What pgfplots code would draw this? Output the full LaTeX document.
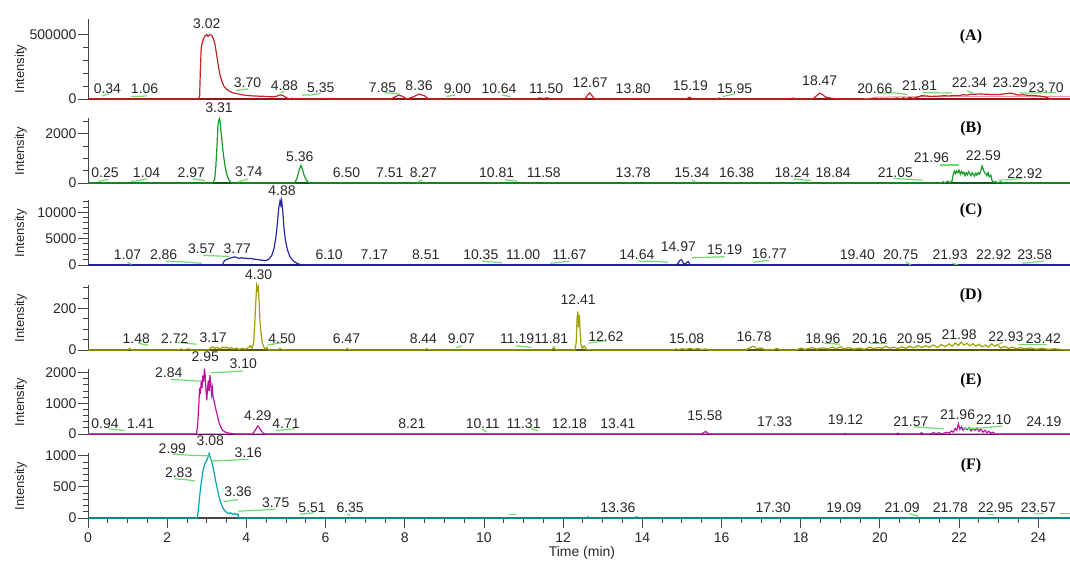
\documentclass[border=0pt]{standalone}
\usepackage{pgfplots}
\pgfplotsset{compat=1.18}
\usepackage{fontspec}
\setmainfont{Liberation Sans}
\newfontfamily\serifb{Liberation Serif}
\definecolor{cA}{RGB}{200,35,35}
\definecolor{cB}{RGB}{20,155,40}
\definecolor{cC}{RGB}{40,40,165}
\definecolor{cD}{RGB}{160,160,10}
\definecolor{cE}{RGB}{185,20,160}
\definecolor{cF}{RGB}{0,165,175}
\definecolor{grnc}{RGB}{110,220,110}
\definecolor{axc}{RGB}{70,70,70}
\definecolor{txt}{RGB}{40,40,40}
\tikzset{
  lbl/.style={anchor=south, inner sep=0pt, font=\fontsize{10.5}{12}\selectfont, text=txt},
  plab/.style={anchor=center, inner sep=0pt, font=\serifb\bfseries\fontsize{12}{14}\selectfont, text=black}
}
\newcommand\pk[3]{\node[lbl,yshift=#2*0.75pt] at (axis cs:#1,0) {#3};}
\newcommand\gs[1]{\addplot[grn] coordinates {#1};}
\pgfplotsset{
  grn/.style={draw=grnc, line width=0.9pt, no markers, forget plot},
  trace/.style={line width=0.9pt, no markers},
  panel/.style={
    scale only axis, width=736.5pt, height=48.75pt,
    xmin=0, xmax=24.8, ymin=0,
    axis x line*=bottom, axis y line*=left,
    clip=false,
    x axis line style={draw=black!50, line width=1.7pt},
    y axis line style={draw=axc, line width=0.7pt},
    every tick/.style={draw=axc, line width=0.7pt},
    major tick length=7.5pt, minor tick length=3.75pt,
    tick align=outside,
    xtick=\empty,
    yticklabel style={font=\fontsize{10.5}{12}\selectfont, text=txt, inner sep=1pt},
    xticklabel style={font=\fontsize{10.5}{12}\selectfont, text=txt},
    scaled y ticks=false,
    /pgf/number format/fixed,
    /pgf/number format/1000 sep={},
    /pgf/number format/assume math mode=true,
    ylabel={Intensity},
    ylabel style={at={(axis description cs:-0.0685,0.49)}, anchor=center, font=\fontsize{9.75}{11}\selectfont, text=txt},
  }
}
\begin{document}
\begin{tikzpicture}
\path[use as bounding box] (-66pt,-345.75pt) rectangle (736.5pt,74.25pt);
% ---------------- (A)
\begin{axis}[panel, at={(0pt,0pt)}, anchor=south west, height=60pt, ymax=620000,
  ytick={0,500000}, minor ytick={100000,200000,300000,400000},
  ylabel style={at={(axis description cs:-0.0685,0.375)}}]
\addplot[black!45, line width=1.7pt, no markers, forget plot] coordinates {(0,0)(24.8,0)};
\addplot[cA!70!black, line width=0.9pt, no markers, forget plot] coordinates {(0,0)(24.8,0)};
\addplot[cA!45, line width=0.7pt, no markers, forget plot] coordinates {(19.6,0)(19.9,14000)(20.5,17000)(21.5,19000)(22.5,20000)(23.5,21000)(24.8,21000)};
\addplot[cA, trace] coordinates {(0,0)(2.80,0)(2.82,30000)(2.84,250000)(2.86,400000)(2.89,440000)(2.92,470000)(2.96,490000)(3.00,500000)(3.03,485000)(3.06,495000)(3.09,500000)(3.13,490000)(3.17,465000)(3.21,420000)(3.25,340000)(3.29,260000)(3.33,190000)(3.38,140000)(3.43,100000)(3.50,75000)(3.58,58000)(3.66,48000)(3.75,42000)(3.85,36000)(3.95,30000)(4.1,25000)(4.3,22000)(4.5,20000)(4.65,17000)(4.75,20000)(4.85,32000)(4.92,28000)(5.0,12000)(5.05,4000)(5.1,0)(5.15,6000)(5.2,0)(5.35,0)(5.4,5000)(5.45,0)(6.0,0)(6.05,4000)(6.1,0)(7.65,0)(7.75,15000)(7.85,30000)(7.95,20000)(8.05,0)(8.2,15000)(8.36,38000)(8.5,25000)(8.6,0)(11.3,0)(11.4,8000)(11.5,5000)(11.6,9000)(11.7,0)(12.55,0)(12.62,30000)(12.67,48000)(12.73,25000)(12.8,0)(13.8,0)(13.85,4000)(13.9,0)(15.1,0)(15.19,14000)(15.28,0)(15.9,0)(15.95,8000)(16.0,0)(17.7,0)(17.8,7000)(17.9,0)(18.3,0)(18.4,25000)(18.47,45000)(18.55,35000)(18.62,15000)(18.7,10000)(18.8,5000)(18.9,0)(19.85,0)(19.9,8000)(19.95,0)(20.1,0)(20.2,6000)(20.25,0)(20.45,8000)(20.5,0)(20.6,10000)(20.65,3000)(20.75,12000)(20.85,6000)(20.95,14000)(21.05,26000)(21.15,24000)(21.3,20000)(21.45,22000)(21.6,25000)(21.75,24000)(21.9,27000)(22.0,26000)(22.1,33000)(22.2,30000)(22.3,38000)(22.4,36000)(22.5,40000)(22.6,38000)(22.75,36000)(22.9,34000)(23.05,36000)(23.2,42000)(23.3,46000)(23.4,38000)(23.5,30000)(23.6,33000)(23.75,28000)(23.9,26000)(24.05,22000)(24.2,15000)(24.3,0)(24.8,0)};
\gs{(0.35,23000)(0.52,39000)}
\gs{(1.09,19000)(1.30,19000)(1.48,25000)}
\gs{(3.74,67000)(4.05,78000)}
\gs{(4.87,47000)(4.96,59000)}
\gs{(5.40,31000)(5.65,31000)(5.88,46000)}
\gs{(7.49,50000)(7.88,39000)}
\gs{(9.05,19000)(9.27,31000)}
\gs{(10.45,31000)(10.67,19000)}
\gs{(16.03,19000)(16.34,39000)}
\gs{(19.95,46000)(20.4,46000)(20.7,35000)}
\gs{(21.08,50000)(21.82,46000)}
\gs{(22.2,62000)(22.34,50000)}
\gs{(23.53,46000)(23.9,46000)(24.44,50000)}
\pk{0.49}{5.2}{0.34}\pk{1.43}{5.2}{1.06}\pk{3.00}{69.7}{3.02}\pk{4.03}{11}{3.70}
\pk{4.96}{7.6}{4.88}\pk{5.88}{5.9}{5.35}\pk{7.44}{6.5}{7.85}\pk{8.36}{7.6}{8.36}
\pk{9.33}{5.2}{9.00}\pk{10.38}{5.2}{10.64}\pk{11.57}{5.2}{11.50}\pk{12.68}{11}{12.67}
\pk{13.77}{5.2}{13.80}\pk{15.21}{7.6}{15.19}\pk{16.33}{5.2}{15.95}\pk{18.48}{12.8}{18.47}
\pk{19.87}{5.2}{20.66}\pk{21.0}{7.6}{21.81}\pk{22.26}{11}{22.34}\pk{23.29}{11}{23.29}
\pk{24.2}{6.5}{23.70}
\node[plab, yshift=62*0.75pt] at (axis cs:22.3,0) {(A)};
\end{axis}
% ---------------- (B)
\begin{axis}[panel, at={(0pt,-63pt)}, anchor=south west, ymax=2650,
  ytick={0,2000}, minor ytick={500,1000,1500,2500}]
\addplot[black!45, line width=1.7pt, no markers, forget plot] coordinates {(0,0)(24.8,0)};
\addplot[cB!60!black, line width=0.9pt, no markers, forget plot] coordinates {(0,0)(24.8,0)};
\addplot[cB, trace] coordinates {(0,0)(3.15,0)(3.2,150)(3.23,700)(3.26,1600)(3.28,2300)(3.30,2550)(3.32,2620)(3.34,2450)(3.36,2100)(3.39,1600)(3.42,1150)(3.46,700)(3.50,380)(3.55,150)(3.60,40)(3.66,0)(5.22,0)(5.28,200)(5.32,450)(5.36,650)(5.38,720)(5.41,600)(5.45,350)(5.50,150)(5.56,30)(5.62,0)(21.55,0)(21.6,50)(21.63,0)(21.72,70)(21.76,0)(21.82,80)(21.85,350)(21.88,480)(21.91,380)(21.94,500)(21.97,420)(22.0,520)(22.03,360)(22.06,470)(22.09,380)(22.12,440)(22.15,300)(22.18,420)(22.21,340)(22.24,460)(22.27,380)(22.3,300)(22.33,420)(22.36,350)(22.39,280)(22.42,400)(22.45,320)(22.48,420)(22.52,360)(22.55,520)(22.58,700)(22.61,560)(22.64,420)(22.67,380)(22.7,300)(22.73,420)(22.76,250)(22.8,320)(22.83,100)(22.87,30)(22.92,60)(22.96,0)(23.05,50)(23.1,0)(24.8,0)};
\gs{(0.26,70)(0.52,140)}
\gs{(1.09,70)(1.30,100)(1.48,165)}
\gs{(2.65,165)(2.96,100)}
\gs{(3.79,40)(4.05,165)}
\gs{(8.32,30)(8.45,130)}
\gs{(10.53,130)(10.84,70)}
\gs{(15.25,130)(15.34,30)}
\gs{(17.82,165)(18.26,100)}
\gs{(20.35,185)(21.08,115)}
\gs{(21.52,735)(22.0,735)}
\gs{(23.0,115)(23.3,140)(23.6,185)}
\pk{0.43}{5.2}{0.25}\pk{1.48}{5.2}{1.04}\pk{2.61}{5.2}{2.97}\pk{3.31}{69.7}{3.31}
\pk{4.06}{6.2}{3.74}\pk{5.35}{21.4}{5.36}\pk{6.53}{5.2}{6.50}\pk{7.62}{5.2}{7.51}
\pk{8.47}{5.2}{8.27}\pk{10.32}{5.2}{10.81}\pk{11.51}{5.2}{11.58}\pk{13.77}{5.2}{13.78}
\pk{15.25}{5.2}{15.34}\pk{16.38}{5.2}{16.38}\pk{17.78}{5.2}{18.24}\pk{18.82}{5.2}{18.84}
\pk{20.39}{5.2}{21.05}\pk{21.3}{20}{21.96}\pk{22.61}{22.4}{22.59}\pk{23.66}{4.5}{22.92}
\node[plab, yshift=54*0.75pt] at (axis cs:22.3,0) {(B)};
\end{axis}
% ---------------- (C)
\begin{axis}[panel, at={(0pt,-124.5pt)}, anchor=south west, ymax=12350,
  ytick={0,5000,10000}, minor ytick={1000,2000,3000,4000,6000,7000,8000,9000,11000,12000}]
\addplot[black!45, line width=1.7pt, no markers, forget plot] coordinates {(0,0)(24.8,0)};
\addplot[cC!70!black, line width=0.9pt, no markers, forget plot] coordinates {(0,0)(24.8,0)};
\addplot[cC, trace] coordinates {(0,0)(3.40,0)(3.42,500)(3.46,900)(3.52,1100)(3.58,1300)(3.64,1400)(3.70,1550)(3.74,1450)(3.78,1350)(3.83,1250)(3.88,1400)(3.93,1250)(3.98,1300)(4.05,1200)(4.12,1250)(4.2,1100)(4.28,1050)(4.36,950)(4.44,850)(4.52,900)(4.58,1200)(4.64,1800)(4.70,3200)(4.75,5500)(4.79,8500)(4.82,11000)(4.85,12200)(4.87,11400)(4.89,12300)(4.92,10200)(4.95,7000)(4.99,4500)(5.04,2800)(5.1,1600)(5.18,800)(5.28,300)(5.38,50)(5.45,0)(14.85,0)(14.9,300)(14.95,900)(14.99,1000)(15.04,300)(15.08,150)(15.12,500)(15.16,650)(15.2,100)(15.25,0)(24.8,0)};
\gs{(1.0,520)(1.1,100)}
\gs{(1.96,720)(2.4,600)(2.87,320)}
\gs{(2.91,1820)(3.57,1630)}
\gs{(9.95,720)(10.45,430)}
\gs{(11.68,320)(12.16,720)}
\gs{(13.9,720)(14.2,720)(14.65,530)}
\gs{(15.25,1370)(16.08,1580)}
\gs{(16.8,530)(17.2,870)}
\gs{(20.65,530)(20.78,50)}
\gs{(21.83,320)(21.96,50)}
\gs{(23.6,320)(24.14,720)}
\pk{1.0}{5.2}{1.07}\pk{1.91}{5.2}{2.86}\pk{2.87}{11.4}{3.57}\pk{3.77}{11.4}{3.77}
\pk{4.90}{69}{4.88}\pk{6.09}{5.2}{6.10}\pk{7.23}{5.2}{7.17}\pk{8.53}{5.2}{8.51}
\pk{9.92}{5.2}{10.35}\pk{10.99}{5.2}{11.00}\pk{12.16}{5.2}{11.67}\pk{13.86}{5.2}{14.64}
\pk{14.91}{13}{14.97}\pk{16.08}{9.6}{15.19}\pk{17.21}{6}{16.77}\pk{19.43}{5.2}{19.40}
\pk{20.52}{5.2}{20.75}\pk{21.77}{5.2}{21.93}\pk{22.87}{5.2}{22.92}\pk{23.91}{5.2}{23.58}
\node[plab, yshift=54*0.75pt] at (axis cs:22.3,0) {(C)};
\end{axis}
% ---------------- (D)
\begin{axis}[panel, at={(0pt,-188.25pt)}, anchor=south west, ymax=314,
  ytick={0,200}, minor ytick={50,100,150,250,300}]
\addplot[black!45, line width=1.7pt, no markers, forget plot] coordinates {(0,0)(24.8,0)};
\addplot[cD!55!black, line width=0.9pt, no markers, forget plot] coordinates {(0,0)(24.8,0)};
\addplot[cD, trace] coordinates {(0,0)(1.0,0)(1.05,8)(1.1,0)(2.3,0)(2.35,6)(2.4,0)(2.55,6)(2.6,0)(3.05,0)(3.1,10)(3.15,15)(3.2,8)(3.28,12)(3.33,5)(3.4,14)(3.46,10)(3.5,14)(3.56,6)(3.62,12)(3.68,4)(3.75,10)(3.82,3)(3.9,8)(3.98,4)(4.05,12)(4.1,20)(4.14,10)(4.18,30)(4.21,120)(4.24,240)(4.26,310)(4.28,290)(4.30,305)(4.32,240)(4.34,150)(4.37,80)(4.40,35)(4.44,15)(4.48,5)(4.52,12)(4.56,0)(4.8,0)(4.85,8)(4.9,0)(6.5,0)(6.55,8)(6.6,0)(8.5,0)(8.55,7)(8.6,0)(11.7,0)(11.75,10)(11.8,4)(11.85,0)(12.3,0)(12.33,40)(12.35,150)(12.37,186)(12.39,110)(12.41,170)(12.43,80)(12.45,25)(12.48,8)(12.53,20)(12.58,5)(12.62,0)(14.8,0)(14.85,6)(14.9,2)(15.0,6)(15.1,3)(15.2,8)(15.3,3)(15.4,7)(15.5,2)(15.6,5)(15.7,0)(16.6,0)(16.7,10)(16.8,18)(16.9,6)(17.0,10)(17.1,0)(17.3,0)(17.4,8)(17.5,0)(17.9,0)(18.0,10)(18.1,3)(18.3,12)(18.4,4)(18.55,10)(18.7,5)(18.8,14)(18.9,6)(19.0,16)(19.1,5)(19.2,12)(19.35,4)(19.5,10)(19.6,3)(19.75,14)(19.85,6)(19.95,12)(20.05,8)(20.15,18)(20.25,9)(20.35,14)(20.45,6)(20.55,16)(20.65,8)(20.75,18)(20.85,10)(20.95,22)(21.05,12)(21.15,20)(21.25,14)(21.35,24)(21.45,12)(21.55,26)(21.65,16)(21.75,30)(21.82,18)(21.9,34)(21.98,22)(22.05,38)(22.12,24)(22.2,32)(22.27,20)(22.35,30)(22.42,18)(22.5,28)(22.58,15)(22.66,24)(22.74,14)(22.82,30)(22.9,18)(22.97,26)(23.05,10)(23.15,18)(23.25,8)(23.35,14)(23.45,6)(23.55,12)(23.65,5)(23.8,10)(23.95,4)(24.1,8)(24.25,3)(24.4,6)(24.6,2)(24.8,0)};
\gs{(1.26,33)(1.52,23)}
\gs{(2.23,37)(2.74,28)}
\gs{(4.53,23)(4.92,37)}
\gs{(9.3,12)(9.43,20)}
\gs{(10.8,20)(11.2,12)}
\gs{(11.75,20)(11.8,8)}
\gs{(12.64,33)(13.08,45)}
\gs{(18.6,33)(18.99,28)}
\gs{(19.74,33)(20.18,33)}
\gs{(20.9,20)(20.95,8)}
\gs{(23.0,28)(23.1,37)}
\gs{(23.48,28)(24.22,28)}
\pk{1.22}{5.9}{1.48}\pk{2.19}{5.9}{2.72}\pk{3.16}{6.9}{3.17}\pk{4.31}{70}{4.30}
\pk{4.90}{5.9}{4.50}\pk{6.53}{5.9}{6.47}\pk{8.47}{5.9}{8.44}\pk{9.43}{5.9}{9.07}
\pk{10.84}{5.9}{11.19}\pk{11.70}{5.9}{11.81}\pk{12.38}{44.8}{12.41}\pk{13.08}{7.9}{12.62}
\pk{15.12}{5.9}{15.08}\pk{16.82}{8.6}{16.78}\pk{18.56}{5.9}{18.96}\pk{19.74}{6.5}{20.16}
\pk{20.87}{5.9}{20.95}\pk{22.0}{10.3}{21.98}\pk{23.18}{8.6}{22.93}\pk{24.13}{5.9}{23.42}
\node[plab, yshift=54*0.75pt] at (axis cs:22.3,0) {(D)};
\end{axis}
% ---------------- (E)
\begin{axis}[panel, at={(0pt,-251.25pt)}, anchor=south west, ymax=2119,
  ytick={0,1000,2000}, minor ytick={200,400,600,800,1200,1400,1600,1800}]
\addplot[black!45, line width=1.7pt, no markers, forget plot] coordinates {(0,0)(24.8,0)};
\addplot[cE!55!black, line width=0.9pt, no markers, forget plot] coordinates {(0,0)(24.8,0)};
\addplot[cE!40, line width=0.6pt, no markers, forget plot] coordinates {(0,15)(24.8,15)};
\addplot[cE, trace] coordinates {(0,0)(2.74,0)(2.77,300)(2.80,1000)(2.82,1500)(2.84,1300)(2.86,1750)(2.88,1500)(2.90,1900)(2.92,1700)(2.94,2130)(2.96,1900)(2.98,1400)(3.00,1100)(3.02,1500)(3.04,1750)(3.06,1400)(3.08,1920)(3.10,1650)(3.12,1300)(3.14,1500)(3.16,1200)(3.19,1050)(3.22,850)(3.26,650)(3.30,420)(3.35,230)(3.40,120)(3.47,60)(3.55,30)(3.65,10)(3.75,0)(4.15,0)(4.2,80)(4.25,180)(4.29,260)(4.33,200)(4.38,90)(4.43,20)(4.48,0)(15.5,0)(15.55,50)(15.6,80)(15.65,30)(15.7,0)(19.1,0)(19.12,20)(19.15,0)(20.4,0)(20.45,30)(20.5,0)(21.0,0)(21.05,40)(21.1,0)(21.3,0)(21.35,50)(21.4,10)(21.5,40)(21.55,0)(21.7,60)(21.75,20)(21.8,100)(21.85,60)(21.9,180)(21.94,120)(21.98,330)(22.02,150)(22.06,240)(22.1,120)(22.15,200)(22.2,140)(22.25,210)(22.3,100)(22.35,180)(22.4,120)(22.45,190)(22.5,90)(22.55,160)(22.6,60)(22.65,120)(22.7,40)(22.75,90)(22.8,20)(22.85,60)(22.9,0)(24.8,0)};
\gs{(0.52,170)(0.93,110)}
\gs{(2.09,1780)(2.5,1750)(2.87,1720)}
\gs{(3.11,2000)(3.5,2020)(3.92,2060)}
\gs{(4.74,110)(5.22,170)}
\gs{(9.95,170)(10.07,60)}
\gs{(11.19,170)(11.36,110)}
\gs{(20.87,230)(21.61,170)}
\gs{(22.13,180)(22.6,200)(23.09,260)}
\pk{0.43}{5.2}{0.94}\pk{1.33}{5.2}{1.41}\pk{2.04}{56}{2.84}\pk{2.96}{72}{2.95}
\pk{3.92}{64.8}{3.10}\pk{4.29}{13}{4.29}\pk{5.0}{5.2}{4.71}\pk{8.18}{5.2}{8.21}
\pk{9.97}{5.2}{10.11}\pk{11.0}{5.2}{11.31}\pk{12.16}{5.2}{12.18}\pk{13.38}{5.2}{13.41}
\pk{15.58}{12.8}{15.58}\pk{17.34}{7.6}{17.33}\pk{19.13}{9}{19.12}\pk{20.78}{7.6}{21.57}
\pk{21.96}{14.5}{21.96}\pk{22.87}{9.3}{22.10}\pk{24.14}{7.6}{24.19}
\node[plab, yshift=53*0.75pt] at (axis cs:22.3,0) {(E)};
\end{axis}
% ---------------- (F)
\begin{axis}[panel, at={(0pt,-314.25pt)}, anchor=south west, ymax=1047,
  ytick={0,500,1000}, minor ytick={100,200,300,400,600,700,800,900},
  xtick={0,2,...,24}, minor x tick num=3,
  x axis line style={draw=axc, line width=1.2pt},
  xlabel={Time (min)},
  xlabel style={at={(axis description cs:0.503,0)}, anchor=center, yshift=-26.25pt, font=\fontsize{10.5}{12}\selectfont, text=txt}]
\addplot[cF, trace] coordinates {(0,0)(2.76,0)(2.79,150)(2.82,350)(2.85,520)(2.88,650)(2.91,780)(2.94,850)(2.97,900)(3.00,930)(3.03,980)(3.06,1040)(3.09,970)(3.12,920)(3.15,840)(3.19,720)(3.23,580)(3.27,460)(3.31,340)(3.35,250)(3.40,170)(3.45,120)(3.50,90)(3.55,70)(3.60,85)(3.65,60)(3.70,75)(3.75,55)(3.79,65)(3.80,0)(24.8,0)};
\gs{(2.13,1030)(2.6,1010)(3.09,1000)}
\gs{(3.13,920)(3.6,930)(4.05,945)}
\gs{(2.18,630)(2.5,615)(2.70,595)}
\gs{(3.42,265)(3.79,295)}
\gs{(3.79,110)(4.3,125)(4.74,140)}
\gs{(5.35,60)(5.70,85)}
\gs{(6.55,60)(6.62,40)}
\gs{(10.62,55)(10.8,55)}
\gs{(12.6,30)(12.65,30)}
\gs{(13.82,30)(13.9,30)}
\gs{(20.74,70)(20.96,30)}
\gs{(22.74,60)(22.87,60)}
\gs{(23.89,70)(24.14,70)}
\gs{(24.55,70)(24.8,70)}
\pk{2.13}{64.5}{2.99}\pk{3.09}{72.4}{3.08}\pk{4.05}{60.3}{3.16}\pk{2.29}{39.7}{2.83}
\pk{3.79}{20.7}{3.36}\pk{4.74}{10.3}{3.75}\pk{5.66}{5.2}{5.51}\pk{6.62}{5.2}{6.35}
\pk{13.38}{5.2}{13.36}\pk{17.3}{5.2}{17.30}\pk{19.09}{5.2}{19.09}\pk{20.56}{5.2}{21.09}
\pk{21.78}{5.2}{21.78}\pk{22.92}{5.2}{22.95}\pk{24.0}{5.2}{23.57}
\node[plab, yshift=52*0.75pt] at (axis cs:22.3,0) {(F)};
\end{axis}
\end{tikzpicture}
\end{document}
